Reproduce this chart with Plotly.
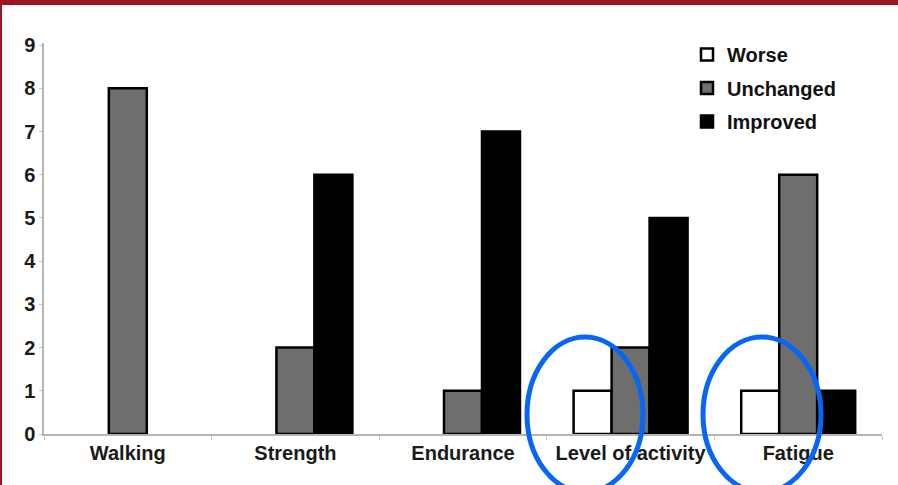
import plotly.graph_objects as go

# Outcome categories and patient counts per response
categories = ["Walking", "Strength", "Endurance", "Level of activity", "Fatigue"]
worse = [0, 0, 0, 1, 1]
unchanged = [8, 2, 1, 2, 6]
improved = [0, 6, 7, 5, 1]
y_ticks = [0, 1, 2, 3, 4, 5, 6, 7, 8, 9]

W, H = 898, 485
ML, MR, MT, MB = 44, 16, 43, 51
PW, PH = W - ML - MR, H - MT - MB


def px_x(px):
    return (px - ML) / PW


def px_y(py):
    return (H - MB - py) / PH


fig = go.Figure()
series = [
    ("Worse", worse, "#ffffff"),
    ("Unchanged", unchanged, "#6e6e6e"),
    ("Improved", improved, "#000000"),
]
for i, (name, vals, color) in enumerate(series):
    # zero counts are left empty so no outline is drawn on the baseline
    shown = [v if v > 0 else None for v in vals]
    fig.add_trace(go.Bar(
        x=categories, y=shown, name=name, legendgroup=f"g{i}",
        marker=dict(color=color, line=dict(color="#000000", width=2.5)),
    ))

axis_font = dict(family="Liberation Sans, Arial, sans-serif", size=20, color="#1a1a1a", weight="bold")

fig.update_layout(
    width=W, height=H,
    margin=dict(l=ML, r=MR, t=MT, b=MB),
    paper_bgcolor="#ffffff", plot_bgcolor="#ffffff",
    barmode="group", bargap=0.32, bargroupgap=0,
    showlegend=True,
    legend=dict(
        x=px_x(687), y=px_y(35), xanchor="left", yanchor="top",
        font=dict(family="Liberation Sans, Arial, sans-serif", size=20, color="#111111", weight="bold"),
        bgcolor="rgba(0,0,0,0)", tracegroupgap=4.5, traceorder="grouped",
        itemclick=False,
    ),
    xaxis=dict(
        showline=True, linecolor="#b5b5b5", linewidth=1.5,
        ticks="outside", ticklen=4, tickcolor="#c8c8c8", tickson="boundaries",
        tickfont=axis_font, showgrid=False, zeroline=False,
        range=[-0.5, 4.5],
    ),
    yaxis=dict(
        range=[0, 9.05], tickvals=y_ticks, showline=True, linecolor="#b5b5b5", linewidth=1.5,
        ticks="outside", ticklen=3, tickcolor="#c8c8c8",
        tickfont=axis_font, showgrid=False, zeroline=False,
    ),
)

# Dark red frame along the top and left edges
frame = "#9c1520"
fig.add_shape(type="rect", xref="paper", yref="paper",
              x0=px_x(0), x1=px_x(W), y0=px_y(5), y1=px_y(0),
              fillcolor=frame, line=dict(width=0), layer="above")
fig.add_shape(type="rect", xref="paper", yref="paper",
              x0=px_x(0), x1=px_x(2), y0=px_y(H), y1=px_y(0),
              fillcolor=frame, line=dict(width=0), layer="above")

# Blue ellipses highlighting two categories
blue = "#0866f6"
for (x0, x1) in [(527, 643), (703, 821)]:
    fig.add_shape(type="circle", xref="paper", yref="paper",
                  x0=px_x(x0), x1=px_x(x1), y0=px_y(492), y1=px_y(337),
                  line=dict(color=blue, width=5), layer="above")

fig.write_html("out.html")
